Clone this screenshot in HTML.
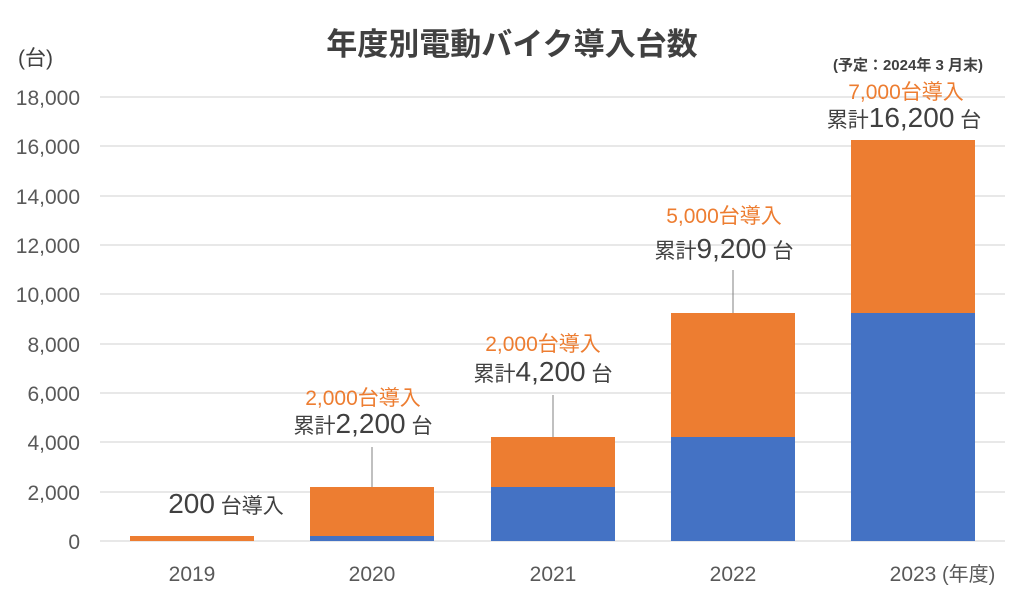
<!DOCTYPE html>
<html><head><meta charset="utf-8"><style>
body{margin:0;background:#fff}
svg text{font-family:"Liberation Sans","Noto Sans CJK JP",sans-serif}
</style></head><body>
<svg width="1024" height="596" xmlns="http://www.w3.org/2000/svg">
<rect width="1024" height="596" fill="#fff"/>
<text x="512" y="55" font-size="31" font-weight="bold" fill="#404040" text-anchor="middle">年度別電動バイク導入台数</text>
<text x="18" y="65" font-size="21" fill="#404040">(台)</text>
<g stroke="#d9d9d9" stroke-width="1.2">
<line x1="100" x2="1005" y1="97" y2="97"/><line x1="100" x2="1005" y1="146" y2="146"/>
<line x1="100" x2="1005" y1="196" y2="196"/><line x1="100" x2="1005" y1="245" y2="245"/>
<line x1="100" x2="1005" y1="294" y2="294"/><line x1="100" x2="1005" y1="344" y2="344"/>
<line x1="100" x2="1005" y1="393" y2="393"/><line x1="100" x2="1005" y1="442" y2="442"/>
<line x1="100" x2="1005" y1="492" y2="492"/><line x1="100" x2="1005" y1="541" y2="541"/>
</g>
<g font-size="21" fill="#595959" text-anchor="end">
<text x="80" y="105">18,000</text><text x="80" y="154">16,000</text><text x="80" y="204">14,000</text>
<text x="80" y="253">12,000</text><text x="80" y="302">10,000</text><text x="80" y="352">8,000</text>
<text x="80" y="401">6,000</text><text x="80" y="450">4,000</text><text x="80" y="500">2,000</text>
<text x="80" y="549">0</text>
</g>
<g fill="#ED7D31">
<rect x="130" y="536" width="124" height="5"/>
<rect x="310" y="487" width="124" height="49"/>
<rect x="491" y="437" width="124" height="50"/>
<rect x="671" y="313" width="124" height="124"/>
<rect x="851" y="140" width="124" height="173"/>
</g>
<g fill="#4472C4">
<rect x="310" y="536" width="124" height="5"/>
<rect x="491" y="487" width="124" height="54"/>
<rect x="671" y="437" width="124" height="104"/>
<rect x="851" y="313" width="124" height="228"/>
</g>
<g stroke="#808080" stroke-width="1">
<line x1="372" x2="372" y1="447" y2="487"/>
<line x1="553" x2="553" y1="395" y2="437"/>
<line x1="733" x2="733" y1="270" y2="313"/>
</g>
<g font-size="21" fill="#595959" text-anchor="middle">
<text x="192" y="581">2019</text><text x="372" y="581">2020</text><text x="553" y="581">2021</text>
<text x="733" y="581">2022</text><text x="913" y="581">2023</text>
</g>
<text x="942" y="581" font-size="20" fill="#595959">(年度)</text>
<text x="226" y="513" fill="#404040" text-anchor="middle"><tspan font-size="28">200</tspan><tspan font-size="21"> 台導入</tspan></text>
<g font-size="21" fill="#ED7D31" text-anchor="middle">
<text x="363" y="405">2,000台導入</text>
<text x="543" y="351">2,000台導入</text>
<text x="724" y="223">5,000台導入</text>
<text x="906" y="99">7,000台導入</text>
</g>
<g fill="#404040" text-anchor="middle">
<text x="363" y="433"><tspan font-size="21">累計</tspan><tspan font-size="28">2,200</tspan><tspan font-size="21"> 台</tspan></text>
<text x="543" y="381"><tspan font-size="21">累計</tspan><tspan font-size="28">4,200</tspan><tspan font-size="21"> 台</tspan></text>
<text x="724" y="258"><tspan font-size="21">累計</tspan><tspan font-size="28">9,200</tspan><tspan font-size="21"> 台</tspan></text>
<text x="904" y="127"><tspan font-size="21">累計</tspan><tspan font-size="28">16,200</tspan><tspan font-size="21"> 台</tspan></text>
</g>
<text x="908" y="70" font-size="15" font-weight="bold" fill="#404040" text-anchor="middle">(予定：2024年 3 月末)</text>
</svg>
</body></html>
